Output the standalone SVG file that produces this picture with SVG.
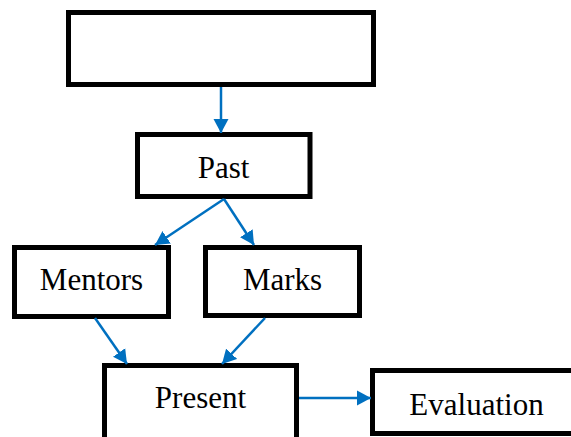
<svg xmlns="http://www.w3.org/2000/svg" width="571" height="437" viewBox="0 0 571 437">
  <style>
    .box { fill: #ffffff; stroke: #000000; stroke-width: 5; }
    .lbl { font-family: "Liberation Serif", "Times New Roman", serif; font-size: 31px; fill: #000000; text-anchor: middle; }
    .conn { stroke: #0070C0; stroke-width: 2.5; fill: none; marker-end: url(#arr); }
  </style>
  <defs>
    <marker id="arr" markerUnits="userSpaceOnUse" markerWidth="16" markerHeight="16" refX="14" refY="8" orient="auto">
      <path d="M0,0.5 L14,8 L0,15.5 z" fill="#0070C0"/>
    </marker>
  </defs>
  <rect width="571" height="437" fill="#ffffff"/>
  <g id="top">
    <rect class="box" x="68.5" y="12.5" width="305" height="72"/>
  </g>
  <g id="past">
    <rect class="box" x="137.5" y="134.5" width="172.5" height="62"/>
    <text class="lbl" x="223.5" y="178">Past</text>
  </g>
  <g id="mentors">
    <rect class="box" x="14.5" y="247.5" width="154" height="69"/>
    <text class="lbl" x="91.5" y="290">Mentors</text>
  </g>
  <g id="marks">
    <rect class="box" x="205.5" y="247.5" width="154" height="68"/>
    <text class="lbl" x="282.5" y="290">Marks</text>
  </g>
  <g id="present">
    <rect class="box" x="104.5" y="365.5" width="192" height="80"/>
    <text class="lbl" x="200.5" y="408">Present</text>
  </g>
  <g id="evaluation">
    <rect class="box" x="372.5" y="370.5" width="210" height="63"/>
    <text class="lbl" x="476.5" y="415">Evaluation</text>
  </g>
  <g id="connectors">
    <line class="conn" x1="221" y1="87" x2="221" y2="133"/>
    <line class="conn" x1="224" y1="199" x2="155" y2="245"/>
    <line class="conn" x1="224" y1="199" x2="254" y2="245"/>
    <line class="conn" x1="95" y1="318" x2="127" y2="364"/>
    <line class="conn" x1="265" y1="318" x2="222" y2="364"/>
    <line class="conn" x1="299" y1="398" x2="371" y2="398"/>
  </g>
</svg>
